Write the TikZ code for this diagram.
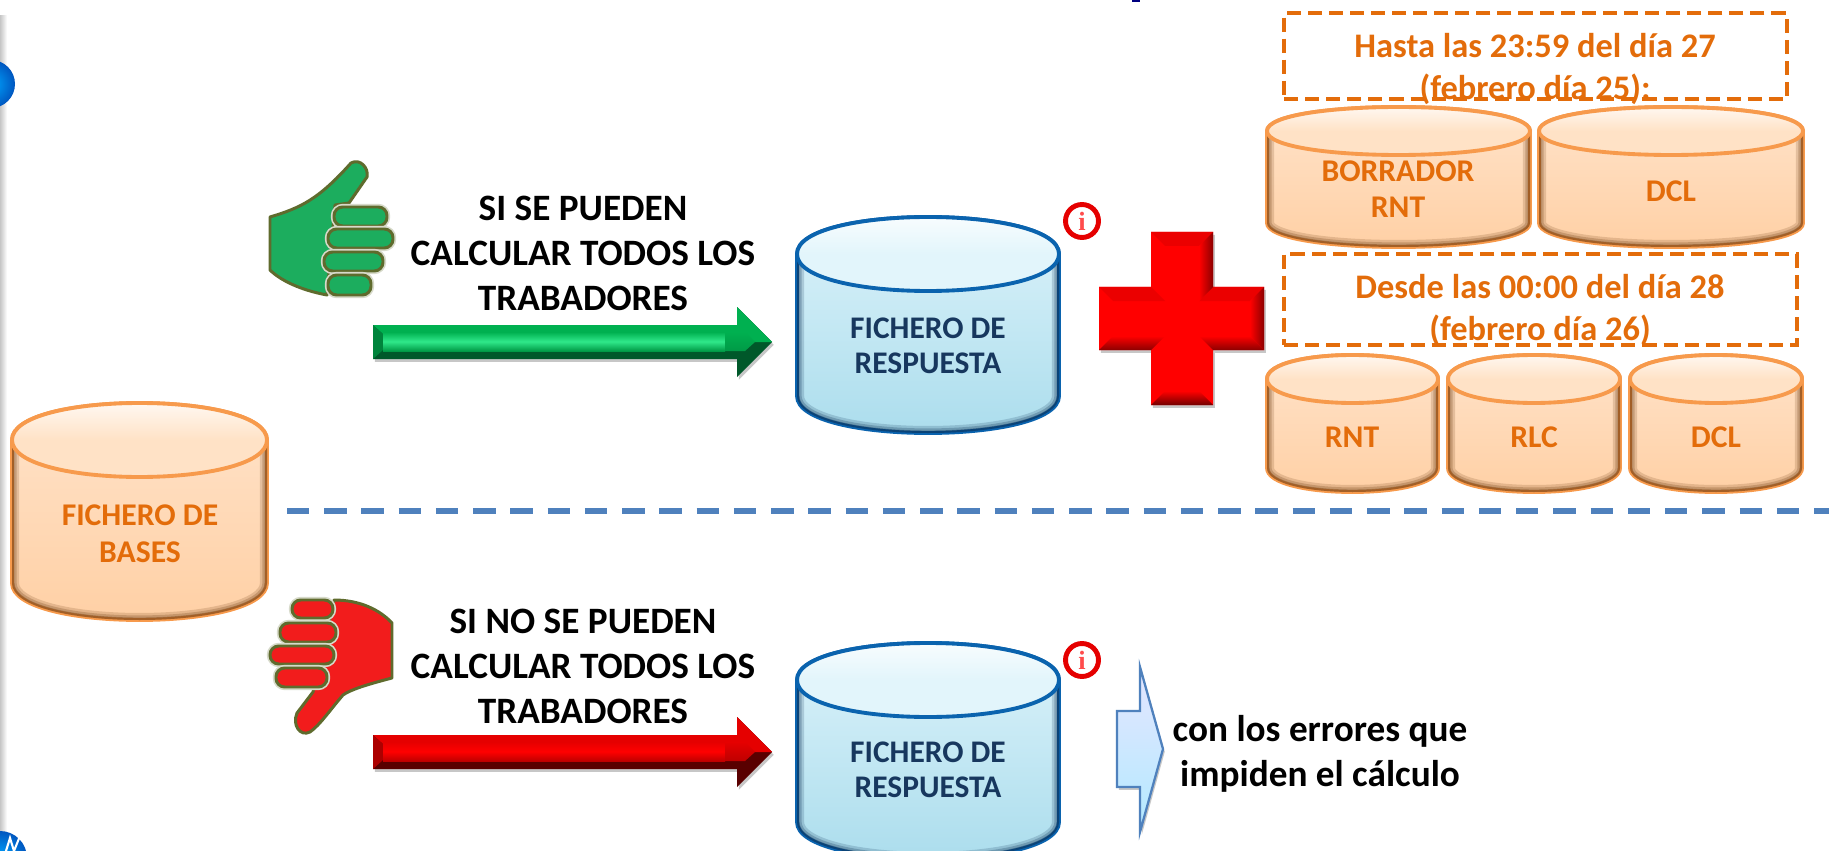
\documentclass[tikz,border=0pt]{standalone}
\usepackage{fontspec}
\setmainfont{Carlito}
\newfontfamily\infofont{Liberation Serif}
\definecolor{orangetxt}{HTML}{E36C0A}
\definecolor{bluetxt}{HTML}{17375E}
\definecolor{dashblue}{HTML}{4F81BD}
\definecolor{olive}{HTML}{5F6B2D}
\definecolor{handgreen}{HTML}{1CAD5E}
\definecolor{handred}{HTML}{F21C1C}
\definecolor{arrowgreen}{HTML}{00B050}
\definecolor{arrowlight}{HTML}{2FE88A}
\definecolor{arrowlow}{HTML}{009A46}
\definecolor{arrowbase}{HTML}{00582A}
% colours of the cylinders, orange unless a scope says otherwise
\definecolor{drumline}{HTML}{F79A4C}
\definecolor{drumrim}{HTML}{6B3A10}
\definecolor{drumhigh}{HTML}{FFE4CC}
\definecolor{drumlow}{HTML}{FFCFA3}
\definecolor{drumtop}{HTML}{FFE2C6}
\tikzset{
    % Define style for the texts
    orangelbl/.style={
           text=orangetxt, align=center, font=\fontsize{18}{20.8}\selectfont\bfseries},
    bluelbl/.style={
           text=bluetxt, align=center, font=\fontsize{17.9}{20}\selectfont\bfseries},
    datelbl/.style={
           text=orangetxt, align=center, font=\fontsize{19.6}{23.6}\selectfont\bfseries},
    blacklbl/.style={
           text=black, align=center, font=\fontsize{21.2}{25.6}\selectfont\bfseries},
    datebox/.style={
           draw=orangetxt, line width=1.9pt, dash pattern=on 8pt off 4pt, rectangle},
    infomark/.style={
           circle, draw=red!90!black, line width=2.8pt, fill=white,
           minimum size=.66cm, inner sep=0pt, text=red!70!white,
           font=\fontsize{15}{15}\selectfont\infofont\bfseries},
    finger/.style={
           draw=olive, line width=1.7pt, rounded corners=5pt,
           preaction={draw=olive!25!white, line width=3.6pt}},
    hand/.style={
           draw=olive, line width=1.7pt, line join=round},
    roundbtn/.style={inner color=blue!35!cyan, outer color=blue!55!cyan!75!black},
    % Define style for the soft shadow
    softshadow/.style={
           preaction={fill=black, fill opacity=.22, transform canvas={xshift=1pt, yshift=-1.6pt}}}
}
% a cylinder: name, left, right, top, bottom, height of its end curve
\newcommand{\drum}[6]{
  \begin{scope}
    \pgfmathsetmacro{\drumta}{#4+#6}
    \pgfmathsetmacro{\drumtb}{#5-#6}
    \pgfmathsetmacro{\drumku}{#4-#6/3}
    \pgfmathsetmacro{\drumkm}{#4+#6+4*#6/3}
    \pgfmathsetmacro{\drumkd}{#5+#6/3}
    \pgfmathsetmacro{\drumcx}{(#2+#3)/2}
    \pgfmathsetmacro{\drumcy}{(#4+#5)/2}
    \shade[top color=drumhigh, bottom color=drumlow, draw=drumline, line width=2.2pt]
      (#2,\drumta) .. controls (#2,\drumku) and (#3,\drumku) .. (#3,\drumta)
      -- (#3,\drumtb) .. controls (#3,\drumkd) and (#2,\drumkd) .. (#2,\drumtb) -- cycle;
    \begin{scope}
      \clip (#2,\drumta) .. controls (#2,\drumku) and (#3,\drumku) .. (#3,\drumta)
        -- (#3,\drumtb) .. controls (#3,\drumkd) and (#2,\drumkd) .. (#2,\drumtb) -- cycle;
      \foreach \wd/\op in {20/.18,13/.25,7/.35}{
        \draw[drumrim, line width=\wd*.4pt, opacity=\op]
          (#2,\drumta) -- (#2,\drumtb) .. controls (#2,\drumkd) and (#3,\drumkd) .. (#3,\drumtb) -- (#3,\drumta);
      }
    \end{scope}
    \shade[top color=white, bottom color=drumtop, middle color=drumtop, draw=drumline, line width=2.2pt]
      (#2,\drumta) .. controls (#2,\drumku) and (#3,\drumku) .. (#3,\drumta)
      .. controls (#3,\drumkm) and (#2,\drumkm) .. (#2,\drumta) -- cycle;
    \node[inner sep=0pt] (#1) at (\drumcx,\drumcy) {};
  \end{scope}
}
% facets of an arrow pointing right: colours, then height of its centre line
\newcommand{\bevelarrow}[5]{
  \begin{scope}[shift={(0,#5)}]
    \fill[#4, softshadow]
      (373,-17) -- (737,-17) -- (737,-35) -- (772,0) -- (737,35) -- (737,17) -- (373,17) -- cycle;
    \fill[#1] (373,-17) -- (737,-17) -- (737,-35) -- (772,0) -- (745,0) -- (725,-8) -- (383,-8) -- cycle;
    \fill[#1!75!black] (373,-17) -- (383,-8) -- (383,8) -- (373,17) -- cycle;
    \shade[top color=#1, bottom color=#3, middle color=#2]
      (383,-10) -- (725,-10) -- (725,9) -- (383,9) -- cycle;
    \shade[top color=#1, bottom color=#3]
      (725,-10) -- (745,-10) -- (755,0) -- (745,9) -- (725,9) -- cycle;
  \end{scope}
}
\begin{document}
\begin{tikzpicture}[x=0.02cm,y=-0.02cm]
  \clip (0,0) rectangle (1829,851);
  \fill[white] (0,0) rectangle (1829,851);

  % side bar and what is left of the round buttons
  \shade[left color=gray!45, right color=white] (0,16) rectangle (7,851);
  \shade[roundbtn] (-9,84) circle (24);
  \shade[roundbtn] (0,858) circle (27);
  \draw[white, line width=1.2pt] (6,851) -- (10,838) -- (14,851) (14,851) -- (20,836);
  \fill[blue!50!black] (1132,0) rectangle (1140,2);

  % divider
  \draw[dashblue, line width=3pt, dash pattern=on 12.7pt off 8.5pt] (287,511) -- (1829,511);

  % date boxes
  \node[datebox, minimum width=10.06cm, minimum height=1.72cm] (limit1) at (1535.5,56) {};
  \node[datebox, minimum width=10.26cm, minimum height=1.82cm] (limit2) at (1540.5,299.5) {};
  \node[datelbl] (limit1txt) at (1535,69) {Hasta las 23:59 del día 27\\(febrero día 25):};
  \node[datelbl] (limit2txt) at (1540,310) {Desde las 00:00 del día 28\\(febrero día 26)};

  % orange cylinders
  \drum{bases}{12}{267}{403}{620}{37}
  \drum{borrador}{1267}{1530}{107}{247}{24}
  \drum{dcla}{1539}{1803}{107}{247}{24}
  \drum{rnt}{1267}{1438}{355}{492}{24}
  \drum{rlc}{1448}{1620}{355}{492}{24}
  \drum{dclb}{1630}{1802}{355}{492}{24}
  \node[orangelbl] (basestxt) at (140,534) {FICHERO DE\\BASES};
  \node[orangelbl] (borradortxt) at (1398,189) {BORRADOR\\RNT};
  \node[orangelbl] (dclatxt) at (1671,191) {DCL};
  \node[orangelbl] (rnttxt) at (1352,437) {RNT};
  \node[orangelbl] (rlctxt) at (1534,437) {RLC};
  \node[orangelbl] (dclbtxt) at (1716,437) {DCL};

  % blue cylinders
  \begin{scope}
    \definecolor{drumline}{HTML}{0A63AE}
    \definecolor{drumrim}{HTML}{0B2F55}
    \definecolor{drumhigh}{HTML}{DFF4FB}
    \definecolor{drumlow}{HTML}{A9DCEC}
    \definecolor{drumtop}{HTML}{E2F5FB}
    \drum{reply1}{797}{1059}{217}{433}{37}
    \drum{reply2}{797}{1059}{643}{859}{37}
  \end{scope}
  \node[bluelbl] (reply1txt) at (928,346) {FICHERO DE\\RESPUESTA};
  \node[bluelbl] (reply2txt) at (928,770) {FICHERO DE\\RESPUESTA};

  % info marks
  \node[infomark] (info1) at (1082,221) {i};
  \node[infomark] (info2) at (1082,660) {i};

  % texts
  \node[blacklbl] (oktxt) at (583,253) {SI SE PUEDEN\\CALCULAR TODOS LOS\\TRABADORES};
  \node[blacklbl] (kotxt) at (583,666) {SI NO SE PUEDEN\\CALCULAR TODOS LOS\\TRABADORES};
  \node[blacklbl] (errtxt) at (1320,754) {con los errores que\\impiden el cálculo};

  % arrows
  \bevelarrow{arrowgreen}{arrowlight}{arrowlow}{arrowbase}{342}
  \bevelarrow{red!90!black}{red}{red!75!black}{red!35!black}{752}

  % cross
  \fill[red, softshadow]
    (1151,232) -- (1213,232) -- (1213,287) -- (1264,287) -- (1264,350) -- (1213,350)
    -- (1213,405) -- (1151,405) -- (1151,350) -- (1099,350) -- (1099,287) -- (1151,287) -- cycle;
  \fill[red!92!black] (1151,232) -- (1213,232) -- (1199,246) -- (1165,246) -- cycle;
  \fill[red!92!black] (1099,287) -- (1151,287) -- (1165,301) -- (1113,301) -- cycle;
  \fill[red!92!black] (1213,287) -- (1264,287) -- (1250,301) -- (1199,301) -- cycle;
  \shade[left color=red, right color=red!55!black] (1199,246) -- (1213,232) -- (1213,287) -- (1199,301) -- cycle;
  \shade[left color=red, right color=red!55!black] (1250,301) -- (1264,287) -- (1264,350) -- (1250,336) -- cycle;
  \shade[top color=red, bottom color=red!55!black] (1113,336) -- (1165,336) -- (1151,350) -- (1099,350) -- cycle;
  \shade[top color=red, bottom color=red!55!black] (1199,336) -- (1250,336) -- (1264,350) -- (1213,350) -- cycle;
  \shade[top color=red, bottom color=red!45!black] (1165,391) -- (1199,391) -- (1213,405) -- (1151,405) -- cycle;

  % thumb up
  \draw[hand, fill=handgreen] (327,295)
    .. controls (300,290) and (280,280) .. (270,270) -- (270,217)
    .. controls (300,208) and (318,200) .. (351,163)
    .. controls (360,158) and (369,168) .. (367,177) -- (349,203) -- (335,205) -- cycle;
  \foreach \xa/\xb/\ya/\yb in {334/387/207/226, 328/393/229/248, 324/383/252/271, 328/371/275/295}{
    \draw[finger, fill=handgreen] (\xa,\ya) rectangle (\xb,\yb);
  }
  % thumb down
  \draw[hand, fill=handred] (334,600)
    .. controls (360,600) and (380,610) .. (392,623) -- (392,678)
    .. controls (365,685) and (350,690) .. (343,695)
    .. controls (330,710) and (320,725) .. (310,732)
    .. controls (300,737) and (292,725) .. (297,713) -- (313,692) -- cycle;
  \foreach \xa/\xb/\ya/\yb in {292/333/600/618, 280/336/623/642, 270/334/646/664, 276/327/668/687}{
    \draw[finger, fill=handred] (\xa,\ya) rectangle (\xb,\yb);
  }

  % block arrow to the errors
  \shade[top color=blue!10!white, bottom color=blue!28!cyan!30!white, draw=dashblue, line width=1.3pt,
    softshadow]
    (1117,711) -- (1140,711) -- (1140,667) -- (1163,749) -- (1140,832) -- (1140,787) -- (1117,787) -- cycle;
\end{tikzpicture}
\end{document}
